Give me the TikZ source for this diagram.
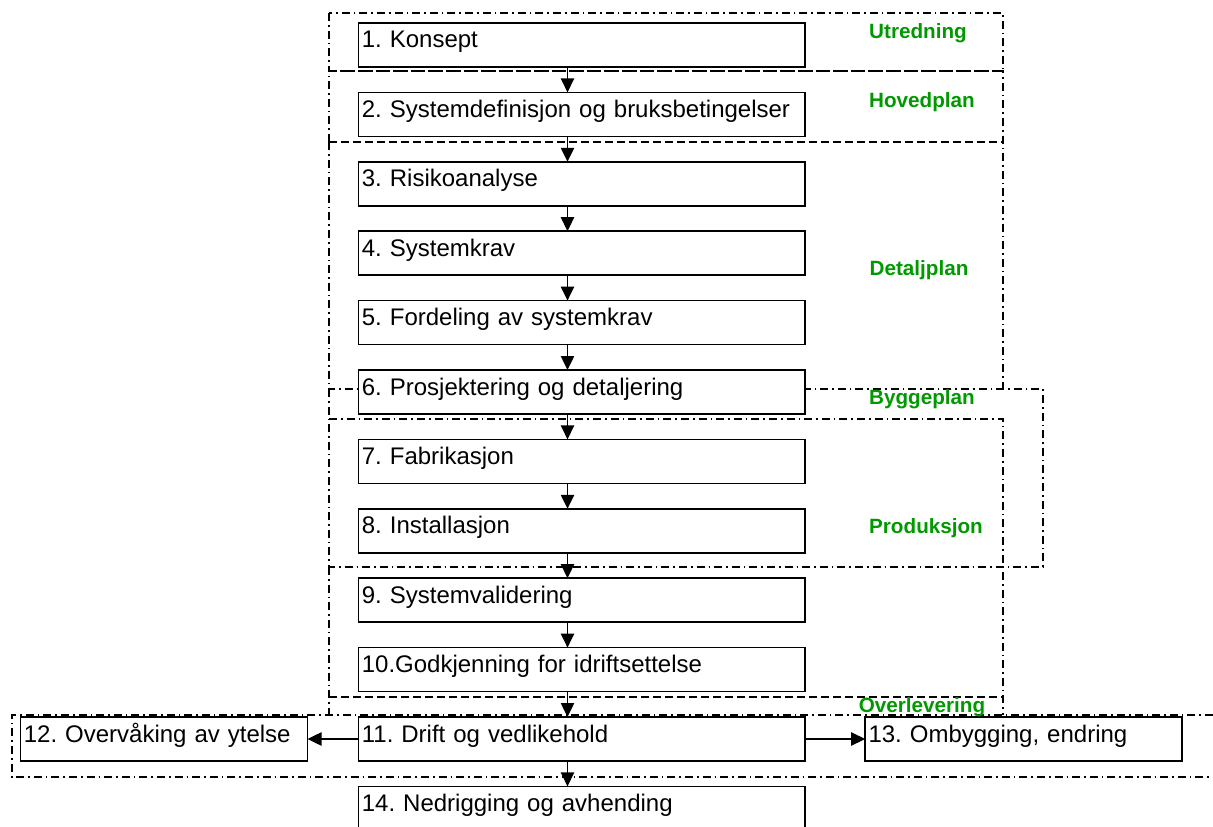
\documentclass[tikz,border=0pt]{standalone}
\usepackage{fontspec}
\setmainfont{Liberation Sans}
\usetikzlibrary{arrows.meta,positioning}
\definecolor{phasegreen}{RGB}{0,153,0}
\frenchspacing
\tikzset{
    stage/.style =  {rectangle,
                    fill=white,
                    draw=black,
                    text=black,
                    line width=1.3pt,
                    outer sep=0pt,
                    inner xsep=2.5pt,
                    inner ysep=0pt,
                    text width=#1,
                    text height=18.75pt,
                    text depth=14.25pt,
                    align=left,
                    font=\fontsize{18}{21}\selectfont},
    stage/.default=330pt,
    phase/.style =  {text=phasegreen,
                    inner sep=0pt,
                    font=\bfseries\fontsize{15.5}{18}\selectfont},
    zoneline/.style = {draw=black,
                    line width=1pt,
                    dash pattern=on 6pt off 3pt on 1.2pt off 3pt},
    zonecut/.style = {draw=black,
                    line width=1pt,
                    dash pattern=on 6pt off 3pt},
    flow/.style =   {line width=1pt,
                    -{Triangle[length=10.5pt,width=10pt]}},
    node distance=19.05pt}

\begin{document}
\begin{tikzpicture}[x=0.75pt,y=-0.75pt]
    \useasboundingbox (0,0) rectangle (1213,827);
    % phase zones
    \draw[zoneline] (329,13) rectangle (1003,71);
    \draw[zoneline] (329,142) -- (329,71) -- (1003,71) -- (1003,389);
    \draw[zoneline] (329,142) -- (329,389);
    \draw[zonecut]  (329,142) -- (1003,142);
    \draw[zoneline] (329,389) rectangle (1043,567);
    \draw[zoneline] (329,419) -- (1003,419) -- (1003,715);
    \draw[zoneline] (329,567) -- (329,715);
    \draw[zonecut]  (329,697) -- (1003,697);
    \draw[zoneline] (1213,715) -- (12,715) -- (12,777) -- (1213,777);

    % stages
    \node[stage] (b1) [anchor=north west] at (358.5,23) {1. Konsept};
    \node[stage] (b2)  [below=of b1]  {2. Systemdefinisjon og bruksbetingelser};
    \node[stage] (b3)  [below=of b2]  {3. Risikoanalyse};
    \node[stage] (b4)  [below=of b3]  {4. Systemkrav};
    \node[stage] (b5)  [below=of b4]  {5. Fordeling av systemkrav};
    \node[stage] (b6)  [below=of b5]  {6. Prosjektering og detaljering};
    \node[stage] (b7)  [below=of b6]  {7. Fabrikasjon};
    \node[stage] (b8)  [below=of b7]  {8. Installasjon};
    \node[stage] (b9)  [below=of b8]  {9. Systemvalidering};
    \node[stage] (b10) [below=of b9]  {10.Godkjenning for idriftsettelse};
    \node[stage] (b11) [below=of b10] {11. Drift og vedlikehold};
    \node[stage] (b14) [below=of b11] {14. Nedrigging og avhending};
    \node[stage=210.25pt] (b12) [left=38.25pt of b11] {12. Overvåking av ytelse};
    \node[stage=232.75pt] (b13) [right=45pt of b11]   {13. Ombygging, endring};

    % phase names
    \node[phase] (utredning)    at (918,33)  {Utredning};
    \node[phase] (hovedplan)    at (922,102) {Hovedplan};
    \node[phase] (detaljplan)   at (919,270) {Detaljplan};
    \node[phase] (byggeplan)    at (922,399) {Byggeplan};
    \node[phase] (produksjon)   at (926,528) {Produksjon};
    \node[phase] (overlevering) at (922,707) {Overlevering};

    \coordinate (spine) at (567.5,0);
    \path [flow]    (b1.south -| spine)  edge (b2.north -| spine)
                    (b2.south -| spine)  edge (b3.north -| spine)
                    (b3.south -| spine)  edge (b4.north -| spine)
                    (b4.south -| spine)  edge (b5.north -| spine)
                    (b5.south -| spine)  edge (b6.north -| spine)
                    (b6.south -| spine)  edge (b7.north -| spine)
                    (b7.south -| spine)  edge (b8.north -| spine)
                    (b8.south -| spine)  edge (b9.north -| spine)
                    (b9.south -| spine)  edge (b10.north -| spine)
                    (b10.south -| spine) edge (b11.north -| spine)
                    (b11.south -| spine) edge (b14.north -| spine)
                    (b11.west)           edge (b12.east)
                    (b11.east)           edge (b13.west);
\end{tikzpicture}
\end{document}
